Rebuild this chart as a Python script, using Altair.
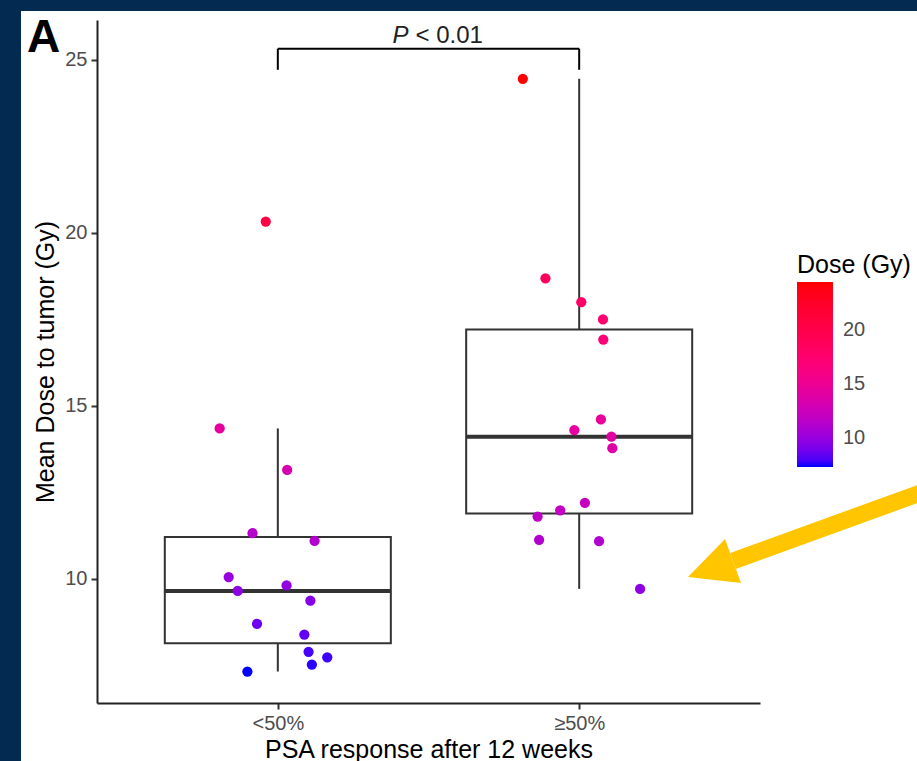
import altair as alt
import pandas as pd

# ---- data ----
groups = ["<50%", "≥50%"]
group_index = [1, 2]

low_dose = [20.32, 14.34, 13.14, 11.31, 11.09, 10.04, 9.64, 9.80, 9.36, 8.69, 8.38, 7.88, 7.72, 7.51, 7.31]
low_jitter = [-0.040, -0.193, 0.031, -0.084, 0.122, -0.163, -0.133, 0.029, 0.108, -0.069, 0.088, 0.102, 0.164, 0.113, -0.101]

high_dose = [24.45, 18.68, 17.99, 17.49, 16.91, 14.60, 14.29, 14.10, 13.77, 12.19, 11.97, 11.79, 11.12, 11.08, 9.70]
high_jitter = [-0.187, -0.112, 0.007, 0.079, 0.080, 0.072, -0.016, 0.107, 0.110, 0.019, -0.063, -0.138, -0.133, 0.066, 0.202]

bracket_y = [25.32]
bracket_tip = [24.71]
p_label_italic = "P"
p_label_rest = "< 0.01"

y_ticks = [10, 15, 20, 25]
legend_ticks = [10, 15, 20]

# ---- table ----
rows = []
for d, j in zip(low_dose, low_jitter):
    rows.append({"gi": group_index[0], "dose": d, "jit": j})
for d, j in zip(high_dose, high_jitter):
    rows.append({"gi": group_index[1], "dose": d, "jit": j})
df = pd.DataFrame(rows)

all_dose = low_dose + high_dose
cmin, cmax = min(all_dose), max(all_dose)

FONT = "Liberation Sans"
LINE = "#333333"

xscale = alt.Scale(domain=[0.4, 2.6], nice=False, zero=False)
yscale = alt.Scale(domain=[6.4, 26.15], nice=False, zero=False)

label_expr = f"datum.value == {group_index[0]} ? '{groups[0]}' : '{groups[1]}'"
xaxis = alt.Axis(title="PSA response after 12 weeks", values=group_index, labelExpr=label_expr,
                 grid=False, zindex=1, labelPadding=4, titlePadding=4)
yaxis = alt.Axis(title="Mean Dose to tumor (Gy)", values=y_ticks, grid=False, zindex=1,
                 labelPadding=4, titlePadding=6)


def X(field):
    return alt.X(field, scale=xscale, axis=xaxis)


def Y(field):
    return alt.Y(field, scale=yscale, axis=yaxis)


one = alt.Data(values=[{}])

# white panel on navy page
panel = alt.Chart(one).mark_rect(color="white").encode(
    x=alt.value(-76), x2=alt.value(830), y=alt.value(-9), y2=alt.value(750)
)

base = alt.Chart(df)

# box statistics
box = base.transform_aggregate(
    q1="q1(dose)", q3="q3(dose)", med="median(dose)", groupby=["gi"]
).transform_calculate(xl="datum.gi - 0.375", xr="datum.gi + 0.375")

rect = box.mark_rect(fill="white", stroke=LINE, strokeWidth=2).encode(
    x=X("xl:Q"), x2="xr:Q", y=Y("q1:Q"), y2="q3:Q"
)
median = box.mark_rule(color=LINE, strokeWidth=4).encode(
    x=X("xl:Q"), x2="xr:Q", y=Y("med:Q")
)

wh = base.transform_joinaggregate(
    q1="q1(dose)", q3="q3(dose)", groupby=["gi"]
).transform_calculate(
    lo="datum.q1 - 1.5 * (datum.q3 - datum.q1)",
    hi="datum.q3 + 1.5 * (datum.q3 - datum.q1)",
).transform_filter(
    "datum.dose >= datum.lo && datum.dose <= datum.hi"
).transform_aggregate(
    wmin="min(dose)", wmax="max(dose)", bq1="min(q1)", bq3="min(q3)", groupby=["gi"]
)
upper = wh.mark_rule(color=LINE, strokeWidth=2).encode(x=X("gi:Q"), y=Y("bq3:Q"), y2="wmax:Q")
lower = wh.mark_rule(color=LINE, strokeWidth=2).encode(x=X("gi:Q"), y=Y("wmin:Q"), y2="bq1:Q")

points = base.transform_calculate(xj="datum.gi + datum.jit").mark_circle(size=105, opacity=1).encode(
    x=X("xj:Q"),
    y=Y("dose:Q"),
    color=alt.Color(
        "dose:Q",
        scale=alt.Scale(domain=[cmin, cmax], range=["#0000ff", "#ff0000"], interpolate="hcl"),
        legend=alt.Legend(
            title="Dose (Gy)", orient="none", legendX=700, legendY=233, direction="vertical",
            values=legend_ticks, gradientLength=185, gradientThickness=36,
            gradientStrokeWidth=0, titleFontSize=25, titleFontWeight="normal", titleColor="black",
            titlePadding=4, labelFontSize=20, labelColor="#4d4d4d", labelOffset=10,
            titleFont=FONT, labelFont=FONT,
        ),
    ),
)

# significance bracket
br = pd.DataFrame({"x1": [group_index[0]], "x2": [group_index[1]], "y": bracket_y, "tip": bracket_tip,
                   "xm": [(group_index[0] + group_index[1]) / 2]})
bchart = alt.Chart(br)
b_h = bchart.mark_rule(color="black", strokeWidth=2).encode(x=X("x1:Q"), x2="x2:Q", y=Y("y:Q"))
b_l = bchart.mark_rule(color="black", strokeWidth=2).encode(x=X("x1:Q"), y=Y("tip:Q"), y2="y:Q")
b_r = bchart.mark_rule(color="black", strokeWidth=2).encode(x=X("x2:Q"), y=Y("tip:Q"), y2="y:Q")
p1 = bchart.mark_text(text=p_label_italic, fontStyle="italic", fontSize=24, align="left",
                      baseline="alphabetic", dx=-36, dy=-6, color="#222", font=FONT).encode(
    x=X("xm:Q"), y=Y("y:Q"))
p2 = bchart.mark_text(text=p_label_rest, fontSize=24, align="left",
                      baseline="alphabetic", dx=-13, dy=-6, color="#222", font=FONT).encode(
    x=X("xm:Q"), y=Y("y:Q"))

# panel letter
letter = alt.Chart(one).mark_text(text="A", fontSize=46, fontWeight="bold", align="left",
                                  baseline="alphabetic", color="black", font=FONT).encode(
    x=alt.value(-70), y=alt.value(32))

# yellow annotation arrow
shaft = alt.Chart(one).mark_rule(color="#ffc600", strokeWidth=17, strokeCap="butt").encode(
    x=alt.value(826), y=alt.value(472), x2=alt.value(636), y2=alt.value(541))
head = alt.Chart(one).mark_point(
    shape="M -0.883 0.533 L 0.35 -0.733 L 0.883 0.733 Z", filled=True, fill="#ffc600",
    strokeWidth=0, opacity=1, size=3600).encode(x=alt.value(617.5), y=alt.value(541))

chart = alt.layer(
    panel, upper, lower, rect, median, points, b_h, b_l, b_r, p1, p2, letter, shaft, head
).properties(
    width=663, height=683, autosize="none",
    padding={"left": 97, "top": 20, "right": 157, "bottom": 58},
).configure(
    background="#032b52", font=FONT
).configure_view(
    strokeWidth=0
).configure_axis(
    domainColor="#222222", domainWidth=2, tickColor=LINE, tickWidth=2, tickSize=6,
    labelFontSize=20, labelColor="#4d4d4d", titleFontSize=25, titleFontWeight="normal",
    titleColor="black", labelFont=FONT, titleFont=FONT,
)

chart.save("out.html", embed_options={"renderer": "svg", "actions": False})
